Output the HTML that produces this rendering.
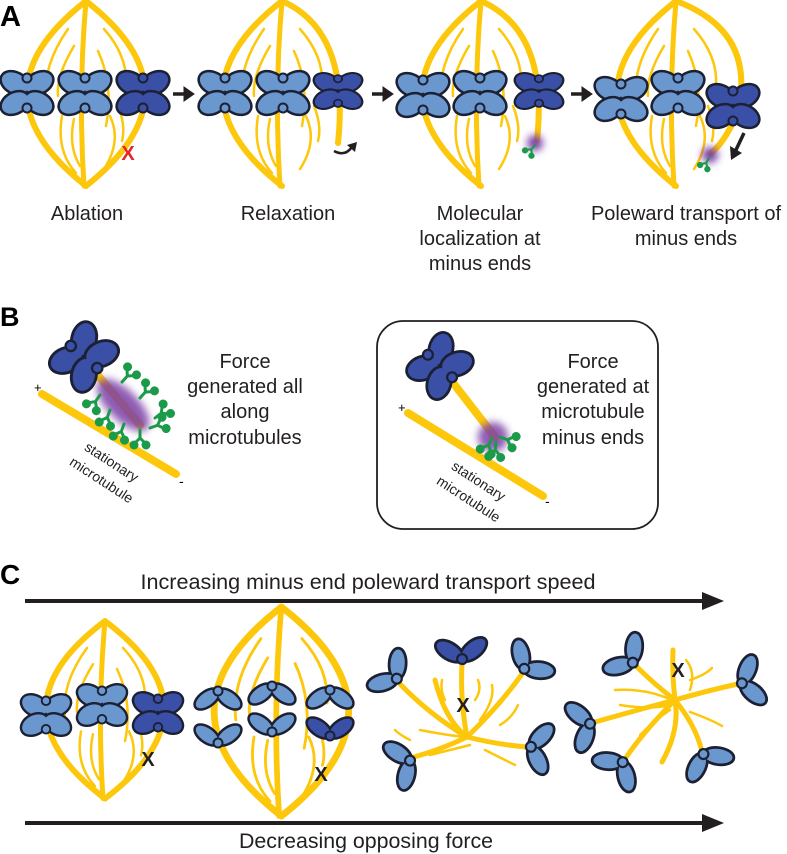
<!DOCTYPE html>
<html><head><meta charset="utf-8"><style>
html,body{margin:0;padding:0;background:#fff;}
svg{display:block;}
text{font-family:"Liberation Sans",Arial,sans-serif;fill:#231f20;}
</style></head><body>
<svg width="787" height="854" viewBox="0 0 787 854" xmlns="http://www.w3.org/2000/svg">
<defs>
  <filter id="blur" x="-50%" y="-50%" width="200%" height="200%"><feGaussianBlur stdDeviation="4"/></filter>
  <g id="halfX">
    <g stroke="#1c2033" stroke-width="5" fill="currentColor">
      <ellipse cx="-12" cy="-10" rx="14" ry="9.5" transform="rotate(28 -12 -10)"/>
      <ellipse cx="12" cy="-10" rx="14" ry="9.5" transform="rotate(-28 12 -10)"/>
    </g>
    <g fill="currentColor">
      <ellipse cx="-12" cy="-10" rx="14" ry="9.5" transform="rotate(28 -12 -10)"/>
      <ellipse cx="12" cy="-10" rx="14" ry="9.5" transform="rotate(-28 12 -10)"/>
    </g>
    <circle cx="0" cy="-15" r="4.5" fill="currentColor" stroke="#1c2033" stroke-width="2"/>
  </g>
  <g id="X"><use href="#halfX"/><use href="#halfX" transform="scale(1,-1)"/></g>
  <g id="vch">
    <g stroke="#1c2033" stroke-width="5" fill="currentColor">
      <ellipse cx="-11" cy="-7" rx="13" ry="6.5" transform="rotate(36 -11 -7)"/>
      <ellipse cx="11" cy="-7" rx="13" ry="6.5" transform="rotate(-36 11 -7)"/>
    </g>
    <g fill="currentColor">
      <ellipse cx="-11" cy="-7" rx="13" ry="6.5" transform="rotate(36 -11 -7)"/>
      <ellipse cx="11" cy="-7" rx="13" ry="6.5" transform="rotate(-36 11 -7)"/>
    </g>
    <circle cx="0" cy="1" r="4.5" fill="currentColor" stroke="#1c2033" stroke-width="2"/>
  </g>
  <g id="spInner" fill="none" stroke="#fdc70c" stroke-linecap="round">
    <path d="M60,0 Q-58,92 60,185" stroke-width="6"/>
    <path d="M60,0 Q52,92 58,185" stroke-width="5"/>
    <g stroke-width="2.5">
      <path d="M42,28 Q16,65 20,100"/>
      <path d="M48,45 Q30,75 32,95"/>
      <path d="M36,115 Q30,150 50,172"/>
      <path d="M48,118 Q42,145 54,165"/>
      <path d="M78,28 Q102,55 100,85"/>
      <path d="M72,50 Q88,85 80,125"/>
      <path d="M84,115 Q96,140 78,168"/>
      <path d="M92,105 Q100,125 96,140"/>
    </g>
  </g>
  <g id="spFull">
    <use href="#spInner"/>
    <path d="M60,0 Q178,92 60,185" fill="none" stroke="#fdc70c" stroke-width="6" stroke-linecap="round"/>
  </g>
  <g id="motor" stroke="#1b9a4a" stroke-width="3" fill="#1b9a4a" stroke-linecap="round">
    <path d="M0,0 L0,-8 L-6,-14 M0,-8 L6,-14" fill="none"/>
    <circle cx="-6" cy="-15" r="4.5" stroke="none"/>
    <circle cx="6" cy="-15" r="4.5" stroke="none"/>
  </g>
</defs>

<!-- ===== Panel A ===== -->
<text x="0" y="26" font-size="29" font-weight="bold" style="fill:#000">A</text>

<use href="#spFull" transform="translate(26,1)"/>
<g transform="translate(222,1)"><use href="#spInner"/><path d="M60,0 Q128,30 116,142" fill="none" stroke="#fdc70c" stroke-width="6" stroke-linecap="round"/></g>
<g transform="translate(421,1)"><use href="#spInner"/><path d="M60,0 Q128,30 116,139" fill="none" stroke="#fdc70c" stroke-width="6" stroke-linecap="round"/></g>
<g transform="translate(616,1)"><use href="#spInner"/><path d="M60,0 Q140,30 122,110 Q110,140 95,152" fill="none" stroke="#fdc70c" stroke-width="6" stroke-linecap="round"/></g>

<use href="#X" color="#6b97cf" transform="translate(27,93)"/>
<use href="#X" color="#6b97cf" transform="translate(85,93)"/>
<use href="#X" color="#3a4fa6" transform="translate(143,93)"/>
<use href="#X" color="#6b97cf" transform="translate(225,93)"/>
<use href="#X" color="#6b97cf" transform="translate(283,93)"/>
<use href="#X" color="#3a4fa6" transform="translate(338,91) scale(0.92,0.82)"/>
<use href="#X" color="#6b97cf" transform="translate(423,95)"/>
<use href="#X" color="#6b97cf" transform="translate(480,93)"/>
<use href="#X" color="#3a4fa6" transform="translate(539,91) scale(0.92,0.82)"/>
<use href="#X" color="#6b97cf" transform="translate(621,99)"/>
<use href="#X" color="#6b97cf" transform="translate(678,93)"/>
<use href="#X" color="#3a4fa6" transform="translate(733,106)"/>

<g fill="#231f20" stroke="#231f20">
  <path d="M173,94 L186,94" stroke-width="3.5"/><path d="M184,87 L194,94 L184,101 Z"/>
  <path d="M372,94 L385,94" stroke-width="3.5"/><path d="M383,87 L393,94 L383,101 Z"/>
  <path d="M571,94 L584,94" stroke-width="3.5"/><path d="M582,87 L592,94 L582,101 Z"/>
</g>
<text x="128" y="160" font-size="20" font-weight="bold" text-anchor="middle" style="fill:#e5232b">X</text>
<path d="M334,151 Q345,157 352,147" fill="none" stroke="#231f20" stroke-width="2.5"/>
<path d="M347,145 L357,142 L355,152 Z" fill="#231f20"/>
<circle cx="535" cy="143" r="8" fill="#7b3fa6" filter="url(#blur)"/>
<use href="#motor" transform="translate(535,145) rotate(220) scale(0.7)"/>
<circle cx="710" cy="155" r="8" fill="#7b3fa6" filter="url(#blur)"/>
<use href="#motor" transform="translate(709,158) rotate(210) scale(0.7)"/>
<path d="M744,133 L735,152" stroke="#231f20" stroke-width="3.5"/>
<path d="M730,146 L731,160 L742,153 Z" fill="#231f20"/>

<g font-size="20" text-anchor="middle">
  <text x="87" y="220">Ablation</text>
  <text x="288" y="220">Relaxation</text>
  <text x="480" y="220">Molecular</text>
  <text x="480" y="245">localization at</text>
  <text x="480" y="270">minus ends</text>
  <text x="686" y="220">Poleward transport of</text>
  <text x="686" y="245">minus ends</text>
</g>

<!-- ===== Panel B ===== -->
<text x="0" y="326" font-size="27" font-weight="bold" style="fill:#000">B</text>
<line x1="42" y1="394" x2="176" y2="474" stroke="#fdc70c" stroke-width="8" stroke-linecap="round"/>
<text x="34" y="392" font-size="13" style="fill:#000">+</text>
<text x="179" y="486" font-size="14" style="fill:#000">-</text>
<line x1="95" y1="372" x2="140" y2="425" stroke="#fdc70c" stroke-width="8" stroke-linecap="round"/>
<ellipse cx="123" cy="405" rx="34" ry="15" transform="rotate(45 123 405)" fill="#7b3fa6" opacity="0.85" filter="url(#blur)"/>
<use href="#motor" transform="translate(122,382) rotate(42)"/>
<use href="#motor" transform="translate(140,398) rotate(42)"/>
<use href="#motor" transform="translate(155,418) rotate(52)"/>
<use href="#motor" transform="translate(150,428) rotate(70)"/>
<use href="#motor" transform="translate(100,395) rotate(215)"/>
<use href="#motor" transform="translate(110,410) rotate(200)"/>
<use href="#motor" transform="translate(124,424) rotate(200)"/>
<use href="#motor" transform="translate(140,430) rotate(180)"/>
<use href="#X" color="#3a4fa6" transform="translate(84,357) rotate(-50) scale(1.15)"/>
<g font-size="14">
  <text transform="translate(109,466) rotate(33)" text-anchor="middle">stationary</text>
  <text transform="translate(99,484) rotate(33)" text-anchor="middle">microtubule</text>
</g>
<g font-size="20" text-anchor="middle">
  <text x="245" y="368">Force</text>
  <text x="245" y="393">generated all</text>
  <text x="245" y="418">along</text>
  <text x="245" y="444">microtubules</text>
</g>

<rect x="377" y="321" width="281" height="208" rx="26" fill="none" stroke="#231f20" stroke-width="1.8"/>
<line x1="408" y1="413" x2="543" y2="496" stroke="#fdc70c" stroke-width="8" stroke-linecap="round"/>
<text x="398" y="412" font-size="13" style="fill:#000">+</text>
<text x="545" y="506" font-size="14" style="fill:#000">-</text>
<line x1="447" y1="375" x2="495" y2="437" stroke="#fdc70c" stroke-width="8" stroke-linecap="round"/>
<circle cx="493" cy="437" r="15" fill="#7b3fa6" opacity="0.85" filter="url(#blur)"/>
<use href="#motor" transform="translate(492,438) rotate(205)"/>
<use href="#motor" transform="translate(496,442) rotate(185)"/>
<use href="#motor" transform="translate(500,437) rotate(110)"/>
<use href="#X" color="#3a4fa6" transform="translate(440,366) rotate(-47) scale(1.1)"/>
<g font-size="14">
  <text transform="translate(476,485) rotate(33)" text-anchor="middle">stationary</text>
  <text transform="translate(466,503) rotate(33)" text-anchor="middle">microtubule</text>
</g>
<g font-size="20" text-anchor="middle">
  <text x="593" y="368">Force</text>
  <text x="593" y="393">generated at</text>
  <text x="593" y="418">microtubule</text>
  <text x="593" y="444">minus ends</text>
</g>

<!-- ===== Panel C ===== -->
<text x="0" y="584" font-size="28" font-weight="bold" style="fill:#000">C</text>
<text x="368" y="589" font-size="21" text-anchor="middle" textLength="455" lengthAdjust="spacingAndGlyphs">Increasing minus end poleward transport speed</text>
<line x1="25" y1="601" x2="705" y2="601" stroke="#231f20" stroke-width="4"/>
<path d="M702,592 L724,601 L702,610 Z" fill="#231f20"/>
<line x1="25" y1="823" x2="705" y2="823" stroke="#231f20" stroke-width="4"/>
<path d="M702,814 L724,823 L702,832 Z" fill="#231f20"/>
<text x="366" y="848" font-size="21" text-anchor="middle" textLength="254" lengthAdjust="spacingAndGlyphs">Decreasing opposing force</text>

<use href="#spFull" transform="translate(45,621) scale(1,0.96)"/>
<use href="#X" color="#6b97cf" transform="translate(46,715) scale(0.95)"/>
<use href="#X" color="#6b97cf" transform="translate(102,705) scale(0.95)"/>
<use href="#X" color="#3a4fa6" transform="translate(158,713) scale(0.95)"/>
<text x="148" y="766" font-size="20" font-weight="bold" text-anchor="middle" style="fill:#231f20">X</text>

<use href="#spFull" transform="translate(213,607) scale(1.14,1.13)"/>
<use href="#vch" color="#6b97cf" transform="translate(218,692) rotate(180)"/>
<use href="#vch" color="#6b97cf" transform="translate(218,742)"/>
<use href="#vch" color="#6b97cf" transform="translate(272,687) rotate(180)"/>
<use href="#vch" color="#6b97cf" transform="translate(272,731)"/>
<use href="#vch" color="#6b97cf" transform="translate(330,691) rotate(180)"/>
<use href="#vch" color="#3a4fa6" transform="translate(330,735)"/>
<text x="321" y="781" font-size="20" font-weight="bold" text-anchor="middle">X</text>

<!-- aster 3 -->
<g fill="none" stroke="#fdc70c" stroke-linecap="round">
  <g stroke-width="5">
    <path d="M467,737 Q460,700 462,664"/>
    <path d="M467,737 Q430,715 400,684"/>
    <path d="M467,737 Q500,705 522,674"/>
    <path d="M467,737 Q440,750 414,757"/>
    <path d="M467,737 Q500,745 527,747"/>
    <path d="M467,737 Q445,720 435,680"/>
  </g>
  <g stroke-width="2.5">
    <path d="M420,730 Q445,735 465,737"/><path d="M480,720 Q495,700 492,685"/>
    <path d="M430,755 Q450,750 470,745"/><path d="M485,750 Q505,760 515,765"/>
    <path d="M475,700 Q482,690 478,680"/><path d="M500,725 Q512,718 518,705"/>
    <path d="M445,700 Q440,690 442,680"/><path d="M410,740 Q400,735 395,730"/>
  </g>
</g>
<use href="#vch" color="#3a4fa6" transform="translate(462,658) rotate(-4) scale(1.1)"/>
<use href="#vch" color="#6b97cf" transform="translate(396,678) rotate(-51) scale(1.1)"/>
<use href="#vch" color="#6b97cf" transform="translate(525,668) rotate(41) scale(1.1)"/>
<use href="#vch" color="#6b97cf" transform="translate(409,761) rotate(-112) scale(1.1)"/>
<use href="#vch" color="#6b97cf" transform="translate(532,747) rotate(99) scale(1.1)"/>
<text x="463" y="712" font-size="20" font-weight="bold" text-anchor="middle">X</text>

<!-- aster 4 -->
<g fill="none" stroke="#fdc70c" stroke-linecap="round">
  <g stroke-width="5">
    <path d="M675,700 Q655,685 636,666"/>
    <path d="M675,700 Q710,690 738,684"/>
    <path d="M675,700 Q630,712 595,722"/>
    <path d="M675,700 Q645,730 627,756"/>
    <path d="M675,700 Q695,725 701,748"/>
    <path d="M675,700 Q672,675 673,650"/>
    <path d="M675,700 Q680,730 662,762"/>
  </g>
  <g stroke-width="2.5">
    <path d="M615,690 Q645,688 672,700"/><path d="M690,680 Q705,675 712,668"/>
    <path d="M620,705 Q650,710 670,705"/><path d="M690,712 Q712,720 722,726"/>
    <path d="M686,660 Q696,672 690,690"/><path d="M640,735 Q655,720 670,710"/>
  </g>
</g>
<use href="#vch" color="#6b97cf" transform="translate(632,662) rotate(-49) scale(1.1)"/>
<use href="#vch" color="#6b97cf" transform="translate(743,683) rotate(76) scale(1.1)"/>
<use href="#vch" color="#6b97cf" transform="translate(589,724) rotate(-105) scale(1.1)"/>
<use href="#vch" color="#6b97cf" transform="translate(622,763) rotate(-140) scale(1.1)"/>
<use href="#vch" color="#6b97cf" transform="translate(704,755) rotate(152) scale(1.1)"/>
<text x="678" y="677" font-size="20" font-weight="bold" text-anchor="middle">X</text>
</svg>
</body></html>
